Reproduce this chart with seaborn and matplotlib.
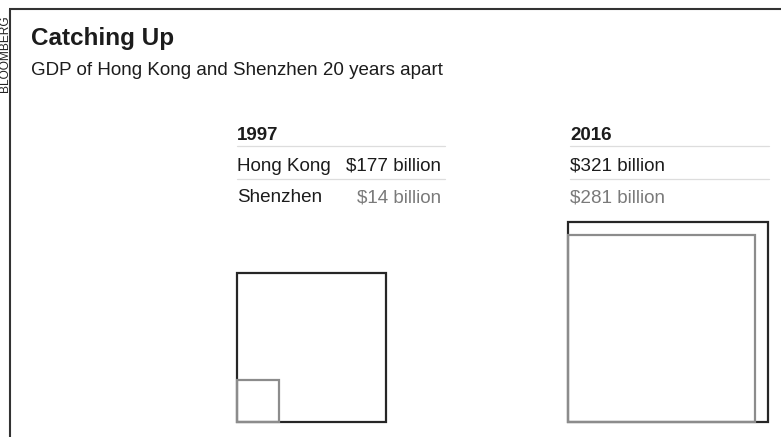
import matplotlib
matplotlib.use("Agg")
import matplotlib.pyplot as plt
from matplotlib.patches import Rectangle
import numpy as np
import seaborn as sns

# data
years = ["1997", "2016"]
cities = ["Hong Kong", "Shenzhen"]
gdp_hk = [177, 321]        # $ billion
gdp_sz = [14, 281]
labels_hk = ["$177 billion", "$321 billion"]
labels_sz = ["$14 billion", "$281 billion"]

sns.set_theme(style="white")
plt.rcParams["font.family"] = ["Liberation Sans", "DejaVu Sans"]

W, H = 781, 437
fig = plt.figure(figsize=(W / 100, H / 100), dpi=100)
ax = fig.add_axes([0, 0, 1, 1])
ax.set_xlim(0, W)
ax.set_ylim(H, 0)
ax.axis("off")

dark = "#1c1c1c"
grey = "#7a7a7a"
line_dark = "#262626"
line_grey = "#8c8c8c"

# frame + source tag
ax.plot([9.5, 9.5], [9, H], color="#333333", lw=1.5, solid_capstyle="butt")
ax.plot([9, W], [9, 9], color="#333333", lw=1.5, solid_capstyle="butt")
ax.text(4.6, 54, "BLOOMBERG", rotation=90, ha="center", va="center",
        fontsize=8.6, color="#222222")

# title
ax.text(31, 45, "Catching Up", fontsize=17.5, fontweight="bold", color=dark, va="baseline")
ax.text(31, 75, "GDP of Hong Kong and Shenzhen 20 years apart", fontsize=13.5,
        color=dark, va="baseline")

# table
fs = 13.6
col_x = [237, 570]
col_r = [445, 769]
for i, yr in enumerate(years):
    x0, x1 = col_x[i], col_r[i]
    ax.text(x0, 140, yr, fontsize=13.5, fontweight="bold", color=dark, va="baseline")
    ax.plot([x0, x1], [146, 146], color="#dddddd", lw=0.9)
    ax.plot([x0, x1], [179, 179], color="#dddddd", lw=0.9)
    if i == 0:
        ax.text(x0, 171, cities[0], fontsize=fs, color=dark, va="baseline")
        ax.text(x0, 202, cities[1], fontsize=fs, color=dark, va="baseline")
        ax.text(441, 171, labels_hk[i], fontsize=fs, color=dark, va="baseline", ha="right")
        ax.text(441, 202, labels_sz[i], fontsize=fs, color=grey, va="baseline", ha="right")
    else:
        ax.text(x0, 171, labels_hk[i], fontsize=fs, color=dark, va="baseline")
        ax.text(x0, 202, labels_sz[i], fontsize=fs, color=grey, va="baseline")

# squares: area proportional to GDP
k = 11.17            # px per sqrt($bn)
box = 215            # px size of each square panel
sq_left = [237, 568]
base = 422
for i in range(len(years)):
    sa = fig.add_axes([sq_left[i] / W, (H - base) / H, box / W, box / H])
    lim = box / k
    sa.set_xlim(0, lim)
    sa.set_ylim(0, lim)
    sa.axis("off")
    s_hk = np.sqrt(gdp_hk[i])
    s_sz = np.sqrt(gdp_sz[i])
    sa.add_patch(Rectangle((0, 0), s_hk, s_hk, fill=False, ec=line_dark, lw=1.6,
                           clip_on=False, joinstyle="miter"))
    sa.add_patch(Rectangle((0, 0), s_sz, s_sz, fill=False, ec=line_grey, lw=1.6,
                           clip_on=False, joinstyle="miter"))

fig.savefig("out.png", dpi=100)
